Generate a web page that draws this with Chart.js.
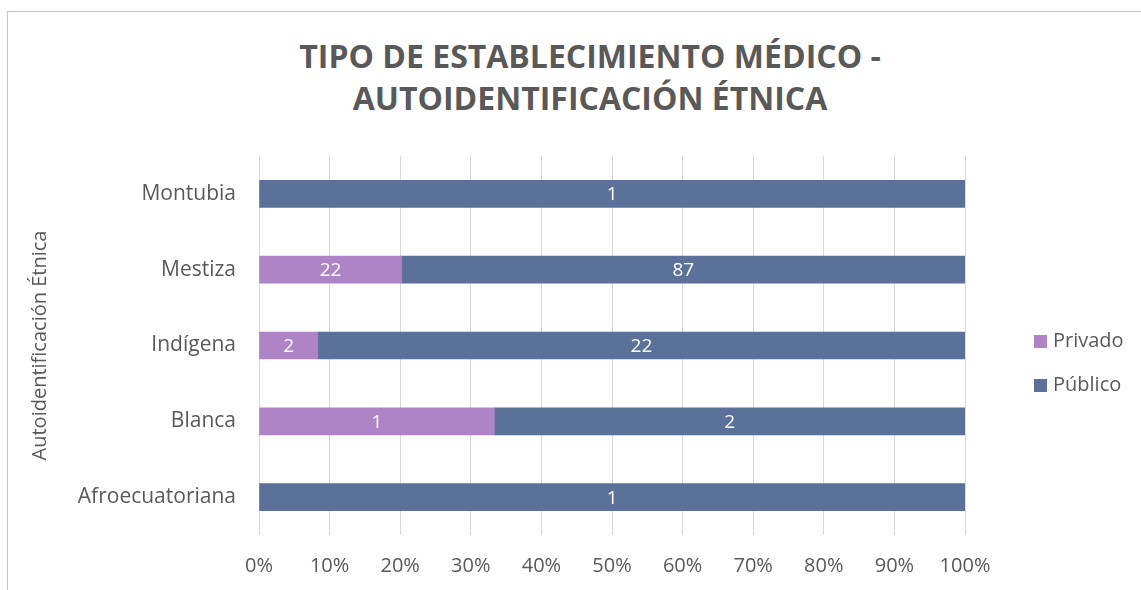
<!DOCTYPE html>
<html>
<head>
<meta charset="utf-8">
<script src="https://cdn.jsdelivr.net/npm/chart.js@4"></script>
<style>
  html, body { margin: 0; padding: 0; background: #fff; }
  #wrap { position: relative; width: 1141px; height: 590px; overflow: hidden; }
  #frame { position: absolute; left: 7px; top: 11px; right: -2px; bottom: -2px; border: 1px solid #DFAEFF; }
  #title { position: absolute; left: 0; width: 1180px; top: 35px; text-align: center;
           font: bold 32px "Open Sans", sans-serif; color: #595959; line-height: 42px; }
  .leg { position: absolute; left: 1034px; font: 20px "Open Sans", sans-serif; color: #595959;
         white-space: nowrap; line-height: 28px; }
  .leg span { display: inline-block; width: 13px; height: 13px; margin-right: 6px; vertical-align: -1px; }
  canvas { position: absolute; left: 0; top: 0; }
</style>
</head>
<body>
<div id="wrap">
  <div id="frame"></div>
  <div id="title">TIPO DE ESTABLECIMIENTO MÉDICO -<br>AUTOIDENTIFICACIÓN ÉTNICA</div>
  <canvas id="chart" width="1141" height="590"></canvas>
  <div class="leg" style="top:326px"><span style="background:#AE84C7"></span>Privado</div>
  <div class="leg" style="top:370px"><span style="background:#5B7199"></span>Público</div>
</div>
<script>
const categories = ['Montubia', 'Mestiza', 'Indígena', 'Blanca', 'Afroecuatoriana'];
const privado = [0, 22, 2, 1, 0];
const publico = [1, 87, 22, 2, 1];
const xTicks = ['0%', '10%', '20%', '30%', '40%', '50%', '60%', '70%', '80%', '90%', '100%'];

// 100% stacked: share of each row
const totals = categories.map((_, i) => privado[i] + publico[i]);
const privadoPct = privado.map((v, i) => v / totals[i] * 100);
const publicoPct = publico.map((v, i) => v / totals[i] * 100);

const FONT = '"Open Sans", sans-serif';
const GREY = '#595959';

// draw the counts inside each bar segment
const barLabels = {
    id: 'barLabels',
    afterDatasetsDraw(chart) {
        const ctx = chart.ctx;
        ctx.save();
        ctx.fillStyle = '#ffffff';
        ctx.font = '19px ' + FONT;
        ctx.textAlign = 'center';
        ctx.textBaseline = 'middle';
        chart.data.datasets.forEach((ds, di) => {
            chart.getDatasetMeta(di).data.forEach((bar, i) => {
                const count = ds.counts[i];
                if (!count) return;
                const cx = (bar.x + bar.base) / 2;
                ctx.fillText(String(count), cx, bar.y + 1);
            });
        });
        ctx.restore();
    }
};

new Chart(document.getElementById('chart'), {
    type: 'bar',
    data: {
        labels: categories,
        datasets: [
            { label: 'Privado', data: privadoPct, counts: privado, backgroundColor: '#AE84C7' },
            { label: 'Público', data: publicoPct, counts: publico, backgroundColor: '#5B7199' }
        ]
    },
    options: {
        indexAxis: 'y',
        responsive: false,
        animation: false,
        layout: { padding: { left: 28, top: 156, right: 176, bottom: 10 } },
        plugins: {
            legend: { display: false },
            tooltip: { enabled: false }
        },
        datasets: { bar: { barThickness: 27 } },
        scales: {
            x: {
                stacked: true,
                min: 0,
                max: 100,
                border: { display: false },
                grid: { color: '#D9D9D9', lineWidth: 1, drawTicks: false },
                afterFit: s => { s.height = 45; },
                afterBuildTicks: s => { s.ticks = xTicks.map((_, i) => ({ value: i * 10 })); },
                ticks: {
                    padding: 19,
                    color: GREY,
                    font: { family: FONT, size: 20 },
                    callback: (v, i) => xTicks[i]
                }
            },
            y: {
                stacked: true,
                border: { display: false },
                grid: { display: false, drawTicks: false },
                afterFit: s => { s.width = 231; },
                ticks: {
                    padding: 23,
                    color: GREY,
                    font: { family: FONT, size: 21 }
                },
                title: {
                    display: true,
                    text: 'Autoidentificación Étnica',
                    color: GREY,
                    font: { family: FONT, size: 20 },
                    padding: 0
                }
            }
        }
    },
    plugins: [barLabels]
});
</script>
</body>
</html>
